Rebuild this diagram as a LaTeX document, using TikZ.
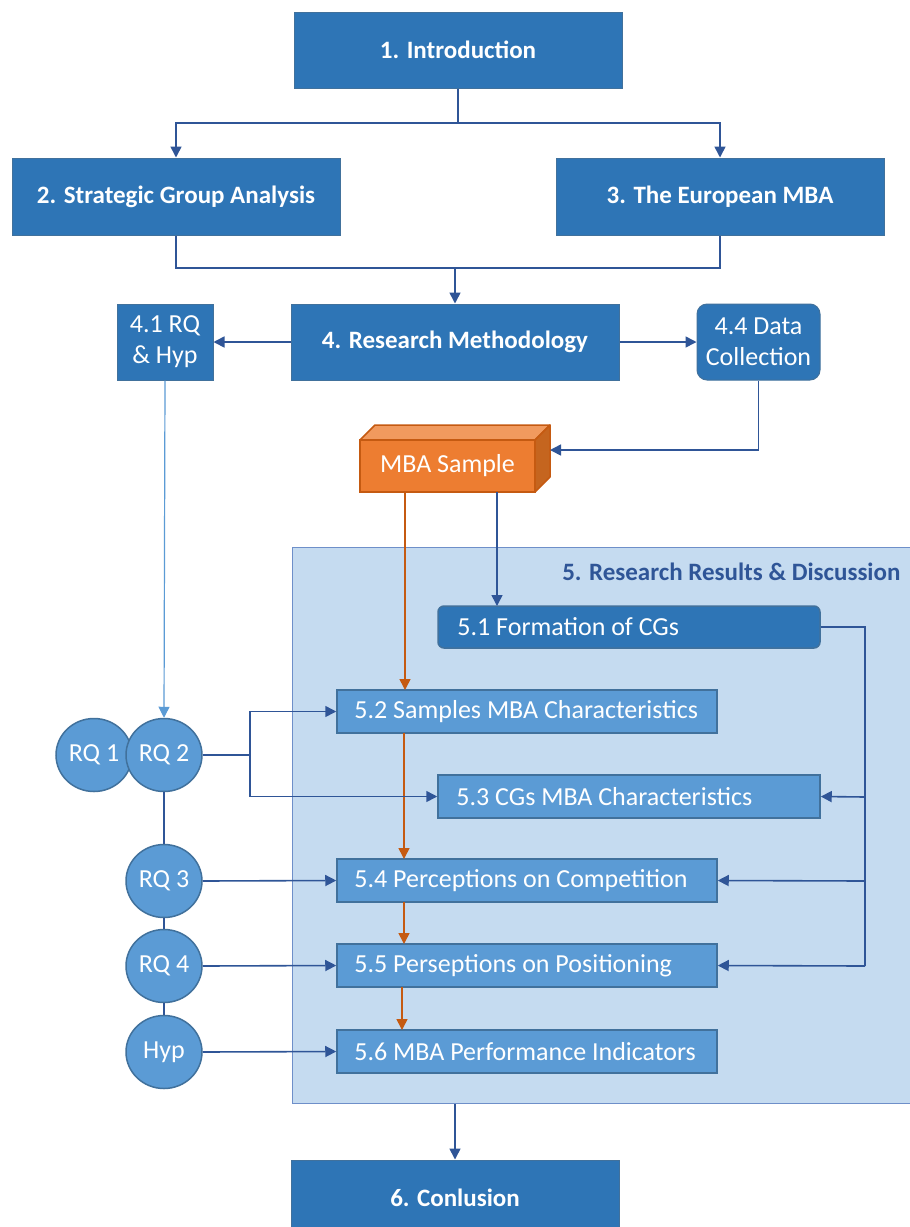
\documentclass[tikz,border=0pt]{standalone}
\usepackage{fontspec}
\setmainfont{Carlito}
\usetikzlibrary{arrows.meta,shapes.geometric}

\definecolor{darkB}{HTML}{2E75B6}
\definecolor{medB}{HTML}{5B9BD5}
\definecolor{bordB}{HTML}{41719C}
\definecolor{lineB}{HTML}{2F5597}
\definecolor{regionF}{HTML}{C5DBF0}
\definecolor{regionD}{HTML}{6E8FC9}
\definecolor{orangeF}{HTML}{ED7D31}
\definecolor{orangeT}{HTML}{F19A5E}
\definecolor{orangeS}{HTML}{C5651F}
\definecolor{orangeD}{HTML}{C55A11}

\tikzset{
  chapter/.style={draw=bordB, line width=1pt, fill=darkB, text=white,
    font=\bfseries\fontsize{25}{30}\selectfont, minimum width=328pt,
    minimum height=76pt, inner sep=0pt},
  sidebox/.style={draw=bordB, line width=1pt, fill=darkB, text=white,
    font=\fontsize{26}{31}\selectfont, align=center, minimum height=76pt,
    inner sep=0pt},
  section/.style={draw=bordB, line width=1.5pt, fill=medB,
    minimum width=380pt, minimum height=43pt, inner sep=0pt},
  sectext/.style={anchor=west, text=white, inner sep=0pt,
    font=\fontsize{26}{30}\selectfont},
  rq/.style={ellipse, draw=bordB, line width=1.5pt, fill=medB, text=white,
    font=\fontsize{26}{30}\selectfont, minimum width=76pt, minimum height=73pt,
    inner sep=0pt},
  link/.style={draw=lineB, line width=1.6pt},
  arr/.style={link, -{Triangle[length=11pt,width=11pt]}},
  oarr/.style={draw=orangeD, line width=1.6pt, -{Triangle[length=11pt,width=11pt]}},
  larr/.style={draw=medB, line width=1.2pt, -{Triangle[length=11pt,width=11pt]}},
}

\begin{document}
\begin{tikzpicture}[x=1pt,y=-1pt]
\clip (0,0) rectangle (910,1227);
\fill[white] (0,0) rectangle (910,1227);

% results region
\node[draw=regionD, line width=1pt, fill=regionF, minimum width=622pt,
  minimum height=556pt, inner sep=0pt, anchor=north west] (region) at (292,547) {};
\node[anchor=east, text=lineB, font=\bfseries\fontsize{25}{30}\selectfont]
  (regtitle) at (904,572) {5. Research Results \& Discussion};

% chapters
\node[chapter] (intro) at (458,50) {1. Introduction};
\node[chapter, minimum height=77pt] (sga) at (176,196.5) {2. Strategic Group Analysis};
\node[chapter, minimum height=77pt] (emba) at (720,196.5) {3. The European MBA};
\node[chapter] (meth) at (455,342) {4. Research Methodology};
\node[sidebox, minimum width=96pt] (rqhyp) at (165,342) {4.1 RQ\\\& Hyp};
\node[sidebox, minimum width=123pt, rounded corners=10pt] (data) at (758.5,342) {4.4 Data\\Collection};
\node[chapter] (concl) at (455,1198) {6. Conlusion};

% sample cube
\coordinate (cA) at (360,440);
\coordinate (cB) at (535,440);
\coordinate (cC) at (535,492);
\filldraw[draw=orangeD, line width=1.5pt, fill=orangeT, line join=round]
  (cA) -- ++(15,-15) -- ++(175,0) -- (cB) -- cycle;
\filldraw[draw=orangeD, line width=1.5pt, fill=orangeS, line join=round]
  (cB) -- ++(15,-15) -- ++(0,52) -- (cC) -- cycle;
\node[draw=orangeD, line width=1.5pt, fill=orangeF, text=white,
  font=\fontsize{26}{30}\selectfont, minimum width=175pt, minimum height=52pt,
  inner sep=0pt] (sample) at (447.5,466) {MBA Sample};
\coordinate (sampleR) at (550,450);

% sections: boxes with left-set labels
\node[section, rounded corners=6pt, fill=darkB, minimum width=382pt, minimum height=42pt]
  (s1) at (629,627) {};
\node[sectext] (t1) at ([xshift=20pt]s1.west) {5.1 Formation of CGs};
\node[section] (s2) at (527,711.5) {};
\node[sectext] (t2) at ([xshift=18pt]s2.west) {5.2 Samples MBA Characteristics};
\node[section, minimum width=382pt] (s3) at (629,796.5) {};
\node[sectext] (t3) at ([xshift=19pt]s3.west) {5.3 CGs MBA Characteristics};
\node[section] (s4) at (527,880.5) {};
\node[sectext] (t4) at ([xshift=18pt]s4.west) {5.4 Perceptions on Competition};
\node[section] (s5) at (527,965.5) {};
\node[sectext] (t5) at ([xshift=18pt]s5.west) {5.5 Perseptions on Positioning};
\node[section] (s6) at (527,1051.5) {};
\node[sectext] (t6) at ([xshift=18pt]s6.west) {5.6 MBA Performance Indicators};

% research questions
\node[rq] (rq1) at (94,755) {RQ 1};
\node[rq] (rq2) at (164,755) {RQ 2};
\node[rq] (rq3) at (164,881) {RQ 3};
\node[rq] (rq4) at (164,966) {RQ 4};
\node[rq] (hyp) at (164,1052) {Hyp};

% top level flow
\draw[arr] (intro.south) |- (176,123) -- (sga.north);
\draw[arr] (intro.south) |- (720,123) -- (emba.north);
\draw[link] (sga.south) |- (720,268) -- (emba.south);
\draw[arr] (455,268) -- (meth.north);
\draw[arr] (meth.west) -- (rqhyp.east);
\draw[arr] (meth.east) -- (data.west);
\draw[arr] (data.south) |- (sampleR);

% sample into results
\draw[arr] (497,492) -- (497,606);
\draw[oarr] (405,492) -- (405,690);
\draw[oarr] (404,733) -- (404,859);
\draw[oarr] (404,902) -- (404,944);
\draw[oarr] (402,987) -- (402,1030);

% formation feeds later sections
\draw[link] (s1.east) -| (865,966);
\draw[arr] (865,797) -- (s3.east);
\draw[arr] (865,881) -- (s4.east);
\draw[arr] (865,966) -- (s5.east);

% research questions
\draw[larr] (rqhyp.south) -- (rq2.north);
\draw[link] (rq2.south) -- (rq3.north);
\draw[link] (rq3.south) -- (rq4.north);
\draw[link] (rq4.south) -- (hyp.north);
\draw[link] (rq2.east) -- (250,755);
\draw[arr] (250,755) |- (s2.west);
\draw[arr] (250,755) |- (s3.west);
\draw[arr] (rq3.east) -- (s4.west);
\draw[arr] (rq4.east) -- (s5.west);
\draw[arr] (hyp.east) -- (s6.west);

% results to conclusion
\draw[arr] (region.south -| concl.north) -- (concl.north);
\end{tikzpicture}
\end{document}
